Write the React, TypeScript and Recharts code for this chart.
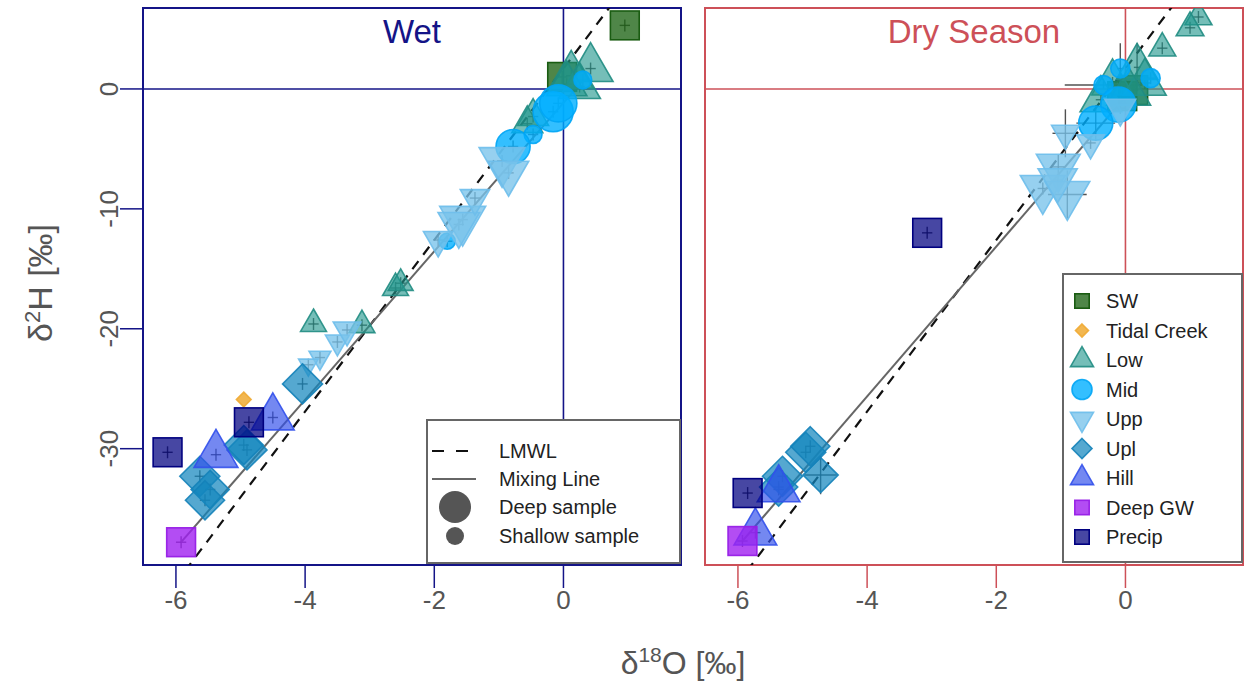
import React from "react";
import {
  ScatterChart,
  Scatter,
  XAxis,
  YAxis,
  ZAxis,
  ReferenceLine,
  ReferenceArea,
  ErrorBar,
  Legend,
} from "recharts";

// [d18O, d2H, relative sample depth (0 shallow .. 1 deep), err x, err y]
type Pt = [number, number, number, number?, number?];

const groups = ["SW", "Tidal Creek", "Low", "Mid", "Upp", "Upl", "Hill", "Deep GW", "Precip"];
const xTicks = [-6, -4, -2, 0];
const yTicks = [-30, -20, -10, 0];
const X_DOMAIN: [number, number] = [-6.51, 1.82];
const Y_DOMAIN: [number, number] = [-39.7, 6.75];

// local meteoric water line
const lmwlSlope = 7.15;
const lmwlIntercept = 1.7;

const wetMixing = [
  [-5.92, -37.8],
  [0.3, 0.7],
];
const dryMixing = [
  [-5.93, -37.7],
  [0.2, 0.6],
];

// ---- wet season ----
const wetSW: Pt[] = [
  [0.95, 5.3, 1],
  [-0.02, 1.0, 1],
];
const wetTidal: Pt[] = [[-4.95, -25.9, 0.05, 0, 0]];
const wetLow: Pt[] = [
  [0.42, 1.7, 0.95],
  [0.12, 1.1, 0.9],
  [0.25, 0.2, 0.8],
  [0.05, 0.4, 0.75],
  [-0.47, -2.3, 0.4],
  [-0.56, -2.9, 0.4],
  [-2.6, -16.6, 0.25],
  [-2.52, -16.2, 0.22],
  [-3.87, -19.6, 0.25],
  [-3.12, -19.7, 0.25],
];
const wetMid: Pt[] = [
  [-0.16, -1.9, 1],
  [-0.08, -1.2, 0.85],
  [0.3, 0.75, 0.12],
  [-0.47, -3.8, 0.12],
  [-0.78, -4.8, 0.7],
  [-1.8, -12.7, 0.08],
];
const wetUpp: Pt[] = [
  [-0.95, -6.0, 1],
  [-0.85, -7.0, 0.75],
  [-1.56, -10.9, 1],
  [-1.62, -11.3, 0.8],
  [-1.37, -9.1, 0.35],
  [-1.94, -12.6, 0.35],
  [-3.77, -22.4, 0.15],
  [-3.5, -21.1, 0.2],
  [-3.35, -20.1, 0.3],
  [-3.95, -23.0, 0.1],
];
const wetUpl: Pt[] = [
  [-4.04, -24.6, 1],
  [-4.9, -30.1, 1],
  [-4.95, -29.7, 0.95],
  [-5.63, -32.3, 1],
  [-5.47, -33.4, 0.9],
  [-5.55, -34.3, 0.95],
];
const wetHill: Pt[] = [
  [-4.5, -27.4, 0.85],
  [-5.38, -30.5, 0.9],
];
const wetDeepGW: Pt[] = [[-5.92, -37.8, 1]];
const wetPrecip: Pt[] = [
  [-4.87, -27.8, 1],
  [-6.13, -30.3, 1],
];

// ---- dry season ----
const drySW: Pt[] = [
  [0.12, -0.1, 1],
  [-0.05, -0.6, 1],
];
const dryTidal: Pt[] = [];
const dryLow: Pt[] = [
  [1.13, 6.0, 0.28],
  [1.0, 5.1, 0.3],
  [0.57, 3.4, 0.28],
  [0.18, 1.8, 0.8, 0.05, 2.0],
  [0.3, 0.5, 0.85],
  [-0.2, 0.5, 0.8],
  [-0.38, -0.9, 0.8],
  [0.05, -0.3, 0.9],
];
const dryMid: Pt[] = [
  [-0.08, 1.7, 0.15, 0.05, 2.1],
  [-0.34, 0.33, 0.15, 0.6, 0.3],
  [0.39, 0.9, 0.15],
  [-0.11, -1.3, 0.75],
  [-0.46, -2.85, 0.7, 0.3, 1.5],
];
const dryUpp: Pt[] = [
  [-0.08, -1.6, 0.4],
  [-0.93, -3.7, 0.3, 0.2, 2.0],
  [-0.54, -4.5, 0.3],
  [-1.04, -6.5, 0.9, 0.1, 1.0],
  [-1.28, -8.3, 0.95],
  [-0.9, -8.8, 0.95, 0.3, 2.0],
  [-1.05, -7.6, 0.7],
];
const dryUpl: Pt[] = [
  [-4.95, -30.3, 1],
  [-4.88, -29.8, 0.95],
  [-5.31, -32.3, 1],
  [-4.72, -32.2, 0.75, 0.25, 1.6],
  [-5.37, -33.2, 0.9],
];
const dryHill: Pt[] = [
  [-5.37, -33.4, 0.85],
  [-5.73, -37.0, 0.85],
];
const dryDeepGW: Pt[] = [[-5.93, -37.7, 1]];
const dryPrecip: Pt[] = [
  [-5.85, -33.7, 1],
  [-3.07, -12.0, 1],
];

const wetSeries = [wetSW, wetTidal, wetLow, wetMid, wetUpp, wetUpl, wetHill, wetDeepGW, wetPrecip];
const drySeries = [drySW, dryTidal, dryLow, dryMid, dryUpp, dryUpl, dryHill, dryDeepGW, dryPrecip];

const groupStyle: Record<string, { kind: string; fill: string; stroke: string }> = {
  SW: { kind: "square", fill: "rgba(30,100,20,0.78)", stroke: "#1a5c12" },
  "Tidal Creek": { kind: "diamond", fill: "rgba(240,170,50,0.85)", stroke: "rgba(240,170,50,0.9)" },
  Low: { kind: "up", fill: "rgba(32,150,140,0.62)", stroke: "rgba(32,140,130,0.9)" },
  Mid: { kind: "circle", fill: "rgba(0,175,255,0.8)", stroke: "rgba(0,165,245,0.9)" },
  Upp: { kind: "down", fill: "rgba(120,195,235,0.78)", stroke: "rgba(110,190,235,0.9)" },
  Upl: { kind: "diamond", fill: "rgba(20,135,190,0.72)", stroke: "rgba(20,130,185,0.9)" },
  Hill: { kind: "up", fill: "rgba(50,80,235,0.68)", stroke: "rgba(50,80,235,0.9)" },
  "Deep GW": { kind: "square", fill: "rgba(160,32,240,0.8)", stroke: "rgba(150,30,230,0.95)" },
  Precip: { kind: "square", fill: "rgba(0,0,128,0.72)", stroke: "#000080" },
};

const NAVY = "#141487";
const RED = "#cd5058";
const AXIS_FONT = '"Liberation Sans Narrow", "Liberation Sans", Arial, sans-serif';
const TEXT_FONT = '"Liberation Sans", Arial, sans-serif';

const toPoints = (arr: Pt[]) =>
  arr.map(([x, y, d, ex = 0.08, ey = 0.5]) => ({ x, y, d, ex, ey }));

function MarkerPath({ kind, cx, cy, w, fill, stroke }: any) {
  const sw = 1.6;
  if (kind === "circle") {
    return <circle cx={cx} cy={cy} r={w / 2} fill={fill} stroke={stroke} strokeWidth={sw} />;
  }
  if (kind === "square") {
    const s = w * 0.72;
    return <rect x={cx - s / 2} y={cy - s / 2} width={s} height={s} fill={fill} stroke={stroke} strokeWidth={sw} />;
  }
  if (kind === "diamond") {
    const r = w / 2;
    return (
      <path
        d={`M${cx},${cy - r}L${cx + r},${cy}L${cx},${cy + r}L${cx - r},${cy}Z`}
        fill={fill}
        stroke={stroke}
        strokeWidth={sw}
      />
    );
  }
  const s = w * 1.15;
  const h = s * 0.866;
  const dir = kind === "down" ? -1 : 1;
  const tip = cy - (dir * 2 * h) / 3;
  const base = cy + (dir * h) / 3;
  return (
    <path
      d={`M${cx},${tip}L${cx + s / 2},${base}L${cx - s / 2},${base}Z`}
      fill={fill}
      stroke={stroke}
      strokeWidth={sw}
    />
  );
}

const marker = (g: string) => (p: any) => {
  const st = groupStyle[g];
  return <MarkerPath kind={st.kind} cx={p.cx} cy={p.cy} w={p.width} fill={st.fill} stroke={st.stroke} />;
};

const noDot = () => <g />;

const YTick = (p: any) => (
  <text
    x={p.x}
    y={p.y}
    transform={`rotate(-90 ${p.x} ${p.y})`}
    textAnchor="middle"
    fill="#555"
    fontSize={26}
    fontFamily={AXIS_FONT}
  >
    {p.payload.value}
  </text>
);

const WetLegend = () => (
  <svg width={256} height={146} style={{ display: "block" }}>
    <rect x={1} y={1} width={253} height={143} fill="#fff" stroke="#666" strokeWidth={2} />
    <line x1={6} y1={32} x2={44} y2={32} stroke="#111" strokeWidth={2} strokeDasharray="12 12" />
    <line x1={6} y1={60} x2={50} y2={60} stroke="#666" strokeWidth={2} />
    <circle cx={29} cy={88} r={16} fill="#555" />
    <circle cx={29} cy={117} r={9} fill="#555" />
    {["LMWL", "Mixing Line", "Deep sample", "Shallow sample"].map((t, i) => (
      <text key={t} x={73} y={[32, 60, 88, 117][i] + 7} fontSize={20} fill="#222" fontFamily={TEXT_FONT}>
        {t}
      </text>
    ))}
  </svg>
);

const DryLegend = () => (
  <svg width={181} height={290} style={{ display: "block" }}>
    <rect x={1} y={1} width={179} height={288} fill="#fff" stroke="#666" strokeWidth={2} />
    {groups.map((g, i) => {
      const st = groupStyle[g];
      const cy = 28 + i * 29.5;
      return (
        <g key={g}>
          <MarkerPath kind={st.kind} cx={20} cy={cy} w={g === "Tidal Creek" ? 13 : 20} fill={st.fill} stroke={st.stroke} />
          <text x={44} y={cy + 7} fontSize={20} fill="#222" fontFamily={TEXT_FONT}>
            {g}
          </text>
        </g>
      );
    })}
  </svg>
);

function Panel({
  series,
  mixing,
  color,
  title,
  showY,
  legend,
  legendPos,
}: {
  series: Pt[][];
  mixing: number[][];
  color: string;
  title: string;
  showY: boolean;
  legend: () => React.ReactElement;
  legendPos: { left: number; top: number };
}) {
  const lmwl = [-45, 12].map((y) => ({ x: (y - lmwlIntercept) / lmwlSlope, y, d: 0 }));
  const mix = mixing.map(([x, y]) => ({ x, y, d: 0 }));
  return (
    <ScatterChart
      width={showY ? 700 : 544}
      height={686}
      margin={showY ? { top: 8, right: 19, bottom: 61, left: 83 } : { top: 8, right: 1, bottom: 61, left: 5 }}
    >
      <XAxis
        type="number"
        dataKey="x"
        domain={X_DOMAIN}
        allowDataOverflow
        ticks={xTicks}
        height={60}
        axisLine={false}
        tickSize={23}
        tickMargin={3}
        tickLine={{ stroke: color, strokeWidth: 1.5 }}
        tick={{ fill: "#555", fontSize: 26, fontFamily: AXIS_FONT }}
      />
      <YAxis
        type="number"
        dataKey="y"
        domain={Y_DOMAIN}
        allowDataOverflow
        ticks={yTicks}
        hide={!showY}
        width={60}
        axisLine={false}
        tickSize={23}
        tickMargin={2}
        tickLine={{ stroke: color, strokeWidth: 1.5 }}
        tick={<YTick />}
      />
      <ZAxis type="number" dataKey="d" domain={[0, 1]} range={[113, 1257]} />
      <ReferenceLine x={0} stroke={color} strokeWidth={1.6} />
      <ReferenceLine y={0} stroke={color} strokeWidth={1.6} />
      <Scatter
        name="LMWL"
        data={lmwl}
        line={{ stroke: "#111", strokeWidth: 2.2, strokeDasharray: "10 8" }}
        shape={noDot}
        legendType="none"
        isAnimationActive={false}
      />
      <Scatter
        name="Mixing Line"
        data={mix}
        line={{ stroke: "#666", strokeWidth: 2 }}
        shape={noDot}
        legendType="none"
        isAnimationActive={false}
      />
      {series.map((pts, i) => (
        <Scatter
          key={groups[i]}
          name={groups[i]}
          data={toPoints(pts)}
          shape={marker(groups[i])}
          isAnimationActive={false}
        >
          <ErrorBar dataKey="ex" direction="x" width={0} stroke="rgba(50,50,50,0.85)" strokeWidth={1.4} />
          <ErrorBar dataKey="ey" direction="y" width={0} stroke="rgba(50,50,50,0.85)" strokeWidth={1.4} />
        </Scatter>
      ))}
      <ReferenceArea
        x1={X_DOMAIN[0]}
        x2={X_DOMAIN[1]}
        y1={Y_DOMAIN[0]}
        y2={Y_DOMAIN[1]}
        ifOverflow="visible"
        fill="none"
        fillOpacity={0}
        stroke={color}
        strokeWidth={2}
        label={{ value: title, position: "insideTop", offset: 12, fill: color, fontSize: 33, fontFamily: TEXT_FONT }}
      />
      <Legend
        layout="vertical"
        align="center"
        verticalAlign="middle"
        content={legend}
        wrapperStyle={{ position: "absolute", left: legendPos.left, top: legendPos.top, width: "auto" }}
      />
    </ScatterChart>
  );
}

export default function App() {
  return (
    <div style={{ position: "relative", width: 1244, height: 686, background: "#fff", fontFamily: TEXT_FONT }}>
      <style>{"body{margin:0}"}</style>
      <div style={{ position: "absolute", left: 0, top: 0 }}>
        <Panel
          series={wetSeries}
          mixing={wetMixing}
          color={NAVY}
          title="Wet"
          showY
          legend={WetLegend}
          legendPos={{ left: 426, top: 419 }}
        />
      </div>
      <div style={{ position: "absolute", left: 700, top: 0 }}>
        <Panel
          series={drySeries}
          mixing={dryMixing}
          color={RED}
          title="Dry Season"
          showY={false}
          legend={DryLegend}
          legendPos={{ left: 362, top: 273 }}
        />
      </div>
      <svg width={1244} height={686} style={{ position: "absolute", left: 0, top: 0, pointerEvents: "none" }}>
        <text
          x={52}
          y={283}
          transform="rotate(-90 52 283)"
          textAnchor="middle"
          fontSize={34}
          fill="#555"
          fontFamily={AXIS_FONT}
        >
          δ<tspan dy={-12} fontSize={22}>2</tspan>
          <tspan dy={12}>H [‰]</tspan>
        </text>
        <text x={683} y={674} textAnchor="middle" fontSize={32} fill="#555" fontFamily={AXIS_FONT}>
          δ<tspan dy={-12} fontSize={21}>18</tspan>
          <tspan dy={12}>O [‰]</tspan>
        </text>
      </svg>
    </div>
  );
}
